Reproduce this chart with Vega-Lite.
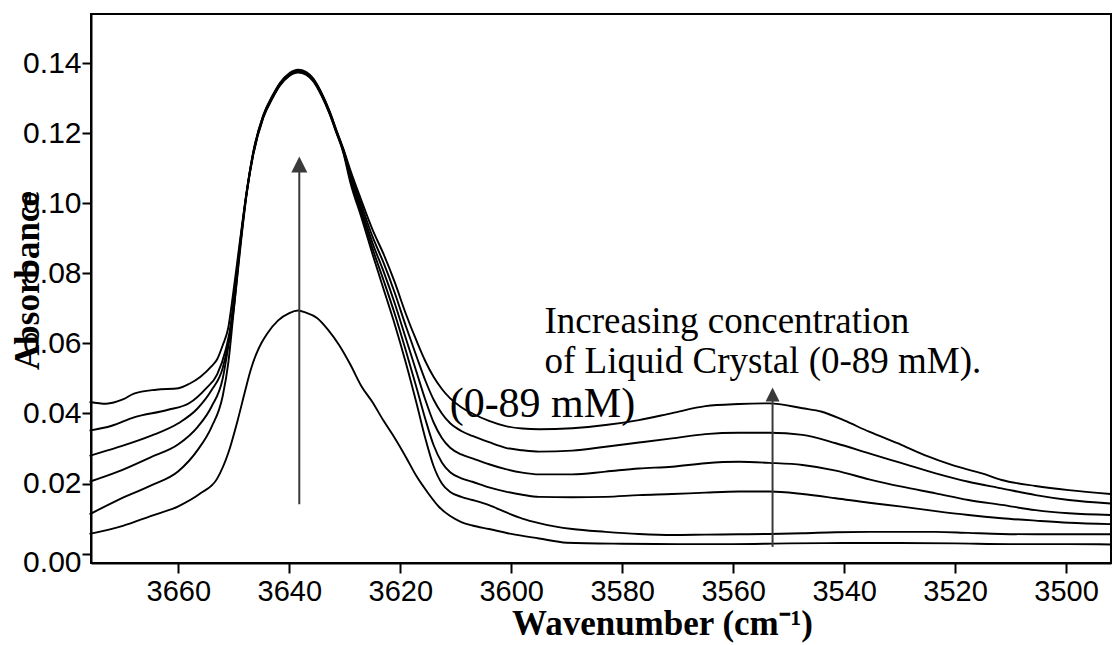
{
  "$schema": "https://vega.github.io/schema/vega-lite/v6.json",
  "width": 1020,
  "height": 549,
  "autosize": {"type": "none"},
  "padding": {"left": 91, "top": 14, "right": 6, "bottom": 82},
  "background": "white",
  "config": {
    "view": {"stroke": "black", "strokeWidth": 2},
    "axis": {"grid": false, "domainColor": "black", "domainWidth": 2, "tickColor": "black", "tickWidth": 2, "labelColor": "black", "titleColor": "black", "labelFont": "Liberation Sans", "titleFont": "Liberation Serif", "titleFontWeight": "bold"}
  },
  "datasets": {
    "curves": [
      {"c":1,"wn":3676,"a":0.0056},{"c":1,"wn":3670,"a":0.0079},{"c":1,"wn":3665,"a":0.0107},{"c":1,"wn":3660,"a":0.0135},{"c":1,"wn":3656,"a":0.0172},{"c":1,"wn":3653,"a":0.0214},{"c":1,"wn":3651,"a":0.0287},{"c":1,"wn":3649.3,"a":0.0381},{"c":1,"wn":3648,"a":0.0462},{"c":1,"wn":3647,"a":0.0522},{"c":1,"wn":3646,"a":0.0568},{"c":1,"wn":3645,"a":0.0602},{"c":1,"wn":3644,"a":0.0628},{"c":1,"wn":3642,"a":0.0666},{"c":1,"wn":3640,"a":0.0687},{"c":1,"wn":3638.4,"a":0.0694},{"c":1,"wn":3637,"a":0.0688},{"c":1,"wn":3635,"a":0.0673},{"c":1,"wn":3633,"a":0.0639},{"c":1,"wn":3631,"a":0.0595},{"c":1,"wn":3629,"a":0.0540},{"c":1,"wn":3627,"a":0.0478},{"c":1,"wn":3625,"a":0.0432},{"c":1,"wn":3623,"a":0.0379},{"c":1,"wn":3621,"a":0.0330},{"c":1,"wn":3619,"a":0.0276},{"c":1,"wn":3617,"a":0.0219},{"c":1,"wn":3615,"a":0.0173},{"c":1,"wn":3613,"a":0.0133},{"c":1,"wn":3611,"a":0.0107},{"c":1,"wn":3609,"a":0.0090},{"c":1,"wn":3607,"a":0.0080},{"c":1,"wn":3604,"a":0.0070},{"c":1,"wn":3600,"a":0.0056},{"c":1,"wn":3595,"a":0.0043},{"c":1,"wn":3590,"a":0.0031},{"c":1,"wn":3580,"a":0.0028},{"c":1,"wn":3570,"a":0.0027},{"c":1,"wn":3560,"a":0.0027},{"c":1,"wn":3550,"a":0.0029},{"c":1,"wn":3540,"a":0.0030},{"c":1,"wn":3530,"a":0.0030},{"c":1,"wn":3520,"a":0.0029},{"c":1,"wn":3510,"a":0.0027},{"c":1,"wn":3500,"a":0.0027},{"c":1,"wn":3492,"a":0.0026},

      {"c":2,"wn":3676,"a":0.0112},{"c":2,"wn":3671,"a":0.0152},{"c":2,"wn":3665,"a":0.0194},{"c":2,"wn":3660,"a":0.0235},{"c":2,"wn":3656.5,"a":0.0296},{"c":2,"wn":3654,"a":0.0362},{"c":2,"wn":3652,"a":0.0450},{"c":2,"wn":3651,"a":0.0544},{"c":2,"wn":3650.1,"a":0.0680},{"c":2,"wn":3648.9,"a":0.0862},{"c":2,"wn":3647.7,"a":0.1025},{"c":2,"wn":3646.5,"a":0.1139},{"c":2,"wn":3644.7,"a":0.1244},{"c":2,"wn":3643,"a":0.1301},{"c":2,"wn":3641.7,"a":0.1336},{"c":2,"wn":3640,"a":0.1364},{"c":2,"wn":3638.4,"a":0.1374},{"c":2,"wn":3637,"a":0.1368},{"c":2,"wn":3635.7,"a":0.1349},{"c":2,"wn":3634.2,"a":0.1308},{"c":2,"wn":3632.7,"a":0.1254},{"c":2,"wn":3631.5,"a":0.1201},{"c":2,"wn":3630.3,"a":0.1147},{"c":2,"wn":3629,"a":0.1060},{"c":2,"wn":3627,"a":0.0960},{"c":2,"wn":3625,"a":0.0855},{"c":2,"wn":3623,"a":0.0755},{"c":2,"wn":3621,"a":0.0655},{"c":2,"wn":3619,"a":0.0545},{"c":2,"wn":3617,"a":0.0425},{"c":2,"wn":3615.5,"a":0.0330},{"c":2,"wn":3614,"a":0.0250},{"c":2,"wn":3612.5,"a":0.0200},{"c":2,"wn":3611,"a":0.0176},{"c":2,"wn":3609,"a":0.0162},{"c":2,"wn":3607,"a":0.0153},{"c":2,"wn":3604,"a":0.0138},{"c":2,"wn":3601,"a":0.0118},{"c":2,"wn":3598,"a":0.0100},{"c":2,"wn":3595,"a":0.0087},{"c":2,"wn":3589,"a":0.0070},{"c":2,"wn":3583,"a":0.0062},{"c":2,"wn":3577,"a":0.0056},{"c":2,"wn":3571,"a":0.0053},{"c":2,"wn":3565,"a":0.0054},{"c":2,"wn":3559,"a":0.0055},{"c":2,"wn":3553.5,"a":0.0056},{"c":2,"wn":3547.5,"a":0.0058},{"c":2,"wn":3541.5,"a":0.0061},{"c":2,"wn":3535.5,"a":0.0062},{"c":2,"wn":3529.6,"a":0.0062},{"c":2,"wn":3523.5,"a":0.0062},{"c":2,"wn":3517.6,"a":0.0059},{"c":2,"wn":3511.6,"a":0.0056},{"c":2,"wn":3505.5,"a":0.0055},{"c":2,"wn":3499.5,"a":0.0055},{"c":2,"wn":3492,"a":0.0055},

      {"c":3,"wn":3676,"a":0.0205},{"c":3,"wn":3671,"a":0.0233},{"c":3,"wn":3665,"a":0.0275},{"c":3,"wn":3660,"a":0.0312},{"c":3,"wn":3656.5,"a":0.0362},{"c":3,"wn":3654,"a":0.0420},{"c":3,"wn":3652,"a":0.0500},{"c":3,"wn":3651,"a":0.0591},{"c":3,"wn":3650.1,"a":0.0688},{"c":3,"wn":3648.9,"a":0.0870},{"c":3,"wn":3647.7,"a":0.1027},{"c":3,"wn":3646.5,"a":0.1141},{"c":3,"wn":3644.7,"a":0.1246},{"c":3,"wn":3643,"a":0.1303},{"c":3,"wn":3641.7,"a":0.1338},{"c":3,"wn":3640,"a":0.1366},{"c":3,"wn":3638.4,"a":0.1376},{"c":3,"wn":3637,"a":0.1370},{"c":3,"wn":3635.7,"a":0.1351},{"c":3,"wn":3634.2,"a":0.1310},{"c":3,"wn":3632.7,"a":0.1256},{"c":3,"wn":3631.5,"a":0.1203},{"c":3,"wn":3630.3,"a":0.1150},{"c":3,"wn":3629,"a":0.1070},{"c":3,"wn":3627,"a":0.0972},{"c":3,"wn":3625,"a":0.0871},{"c":3,"wn":3623,"a":0.0780},{"c":3,"wn":3621,"a":0.0685},{"c":3,"wn":3619,"a":0.0580},{"c":3,"wn":3617,"a":0.0470},{"c":3,"wn":3615.5,"a":0.0385},{"c":3,"wn":3614,"a":0.0310},{"c":3,"wn":3612.5,"a":0.0260},{"c":3,"wn":3611,"a":0.0232},{"c":3,"wn":3609,"a":0.0215},{"c":3,"wn":3607,"a":0.0205},{"c":3,"wn":3604,"a":0.0189},{"c":3,"wn":3601,"a":0.0177},{"c":3,"wn":3598,"a":0.0168},{"c":3,"wn":3595,"a":0.0162},{"c":3,"wn":3589,"a":0.0161},{"c":3,"wn":3583,"a":0.0162},{"c":3,"wn":3577,"a":0.0167},{"c":3,"wn":3571,"a":0.0170},{"c":3,"wn":3565,"a":0.0174},{"c":3,"wn":3559,"a":0.0177},{"c":3,"wn":3553.5,"a":0.0177},{"c":3,"wn":3547.5,"a":0.0170},{"c":3,"wn":3541.5,"a":0.0158},{"c":3,"wn":3535.5,"a":0.0145},{"c":3,"wn":3529.6,"a":0.0134},{"c":3,"wn":3523.5,"a":0.0121},{"c":3,"wn":3517.6,"a":0.0110},{"c":3,"wn":3511.6,"a":0.0101},{"c":3,"wn":3505.5,"a":0.0094},{"c":3,"wn":3499.5,"a":0.0088},{"c":3,"wn":3492,"a":0.0084},

      {"c":4,"wn":3676,"a":0.0279},{"c":4,"wn":3671,"a":0.0303},{"c":4,"wn":3665,"a":0.0336},{"c":4,"wn":3660,"a":0.0372},{"c":4,"wn":3656.5,"a":0.0415},{"c":4,"wn":3654,"a":0.0467},{"c":4,"wn":3652,"a":0.0530},{"c":4,"wn":3651,"a":0.0601},{"c":4,"wn":3650.1,"a":0.0698},{"c":4,"wn":3648.9,"a":0.0877},{"c":4,"wn":3647.7,"a":0.1029},{"c":4,"wn":3646.5,"a":0.1143},{"c":4,"wn":3644.7,"a":0.1248},{"c":4,"wn":3643,"a":0.1305},{"c":4,"wn":3641.7,"a":0.1340},{"c":4,"wn":3640,"a":0.1368},{"c":4,"wn":3638.4,"a":0.1378},{"c":4,"wn":3637,"a":0.1372},{"c":4,"wn":3635.7,"a":0.1353},{"c":4,"wn":3634.2,"a":0.1312},{"c":4,"wn":3632.7,"a":0.1258},{"c":4,"wn":3631.5,"a":0.1205},{"c":4,"wn":3630.3,"a":0.1153},{"c":4,"wn":3629,"a":0.1080},{"c":4,"wn":3627,"a":0.0983},{"c":4,"wn":3625,"a":0.0887},{"c":4,"wn":3623,"a":0.0805},{"c":4,"wn":3621,"a":0.0715},{"c":4,"wn":3619,"a":0.0615},{"c":4,"wn":3617,"a":0.0515},{"c":4,"wn":3615.5,"a":0.0440},{"c":4,"wn":3614,"a":0.0375},{"c":4,"wn":3612.5,"a":0.0330},{"c":4,"wn":3611,"a":0.0302},{"c":4,"wn":3609,"a":0.0283},{"c":4,"wn":3607,"a":0.0272},{"c":4,"wn":3604,"a":0.0255},{"c":4,"wn":3601,"a":0.0241},{"c":4,"wn":3598,"a":0.0231},{"c":4,"wn":3595,"a":0.0226},{"c":4,"wn":3589,"a":0.0226},{"c":4,"wn":3583,"a":0.0234},{"c":4,"wn":3577,"a":0.0243},{"c":4,"wn":3571,"a":0.0248},{"c":4,"wn":3565,"a":0.0258},{"c":4,"wn":3559,"a":0.0262},{"c":4,"wn":3553.5,"a":0.0259},{"c":4,"wn":3547.5,"a":0.0253},{"c":4,"wn":3541.5,"a":0.0237},{"c":4,"wn":3535.5,"a":0.0212},{"c":4,"wn":3529.6,"a":0.0191},{"c":4,"wn":3523.5,"a":0.0172},{"c":4,"wn":3517.6,"a":0.0153},{"c":4,"wn":3511.6,"a":0.0139},{"c":4,"wn":3505.5,"a":0.0124},{"c":4,"wn":3499.5,"a":0.0115},{"c":4,"wn":3492,"a":0.0110},

      {"c":5,"wn":3676,"a":0.0351},{"c":5,"wn":3672,"a":0.0365},{"c":5,"wn":3668,"a":0.0389},{"c":5,"wn":3662,"a":0.0410},{"c":5,"wn":3658,"a":0.0430},{"c":5,"wn":3655,"a":0.0472},{"c":5,"wn":3653,"a":0.0512},{"c":5,"wn":3651.5,"a":0.0580},{"c":5,"wn":3650.5,"a":0.0659},{"c":5,"wn":3650.1,"a":0.0715},{"c":5,"wn":3648.9,"a":0.0884},{"c":5,"wn":3647.7,"a":0.1031},{"c":5,"wn":3646.5,"a":0.1145},{"c":5,"wn":3644.7,"a":0.1250},{"c":5,"wn":3643,"a":0.1307},{"c":5,"wn":3641.7,"a":0.1342},{"c":5,"wn":3640,"a":0.1370},{"c":5,"wn":3638.4,"a":0.1380},{"c":5,"wn":3637,"a":0.1374},{"c":5,"wn":3635.7,"a":0.1355},{"c":5,"wn":3634.2,"a":0.1314},{"c":5,"wn":3632.7,"a":0.1260},{"c":5,"wn":3631.5,"a":0.1207},{"c":5,"wn":3630.3,"a":0.1155},{"c":5,"wn":3629,"a":0.1088},{"c":5,"wn":3627,"a":0.0995},{"c":5,"wn":3625,"a":0.0905},{"c":5,"wn":3623,"a":0.0830},{"c":5,"wn":3621,"a":0.0745},{"c":5,"wn":3619,"a":0.0650},{"c":5,"wn":3617,"a":0.0560},{"c":5,"wn":3615.5,"a":0.0495},{"c":5,"wn":3614,"a":0.0440},{"c":5,"wn":3612.5,"a":0.0400},{"c":5,"wn":3611,"a":0.0372},{"c":5,"wn":3609,"a":0.0350},{"c":5,"wn":3607,"a":0.0336},{"c":5,"wn":3604,"a":0.0318},{"c":5,"wn":3601,"a":0.0302},{"c":5,"wn":3598,"a":0.0295},{"c":5,"wn":3595,"a":0.0291},{"c":5,"wn":3589,"a":0.0294},{"c":5,"wn":3583,"a":0.0305},{"c":5,"wn":3577,"a":0.0317},{"c":5,"wn":3571,"a":0.0329},{"c":5,"wn":3565,"a":0.0341},{"c":5,"wn":3559,"a":0.0345},{"c":5,"wn":3553.5,"a":0.0345},{"c":5,"wn":3547.5,"a":0.0339},{"c":5,"wn":3541.5,"a":0.0315},{"c":5,"wn":3535.5,"a":0.0286},{"c":5,"wn":3529.6,"a":0.0258},{"c":5,"wn":3523.5,"a":0.0229},{"c":5,"wn":3517.6,"a":0.0205},{"c":5,"wn":3511.6,"a":0.0186},{"c":5,"wn":3505.5,"a":0.0167},{"c":5,"wn":3499.5,"a":0.0153},{"c":5,"wn":3492,"a":0.0143},

      {"c":6,"wn":3676,"a":0.0433},{"c":6,"wn":3673,"a":0.0428},{"c":6,"wn":3670,"a":0.0440},{"c":6,"wn":3668,"a":0.0457},{"c":6,"wn":3664,"a":0.0468},{"c":6,"wn":3660,"a":0.0472},{"c":6,"wn":3658,"a":0.0485},{"c":6,"wn":3656,"a":0.0505},{"c":6,"wn":3654,"a":0.0535},{"c":6,"wn":3653,"a":0.0555},{"c":6,"wn":3652,"a":0.0595},{"c":6,"wn":3651,"a":0.0645},{"c":6,"wn":3650.1,"a":0.0745},{"c":6,"wn":3648.9,"a":0.0892},{"c":6,"wn":3647.7,"a":0.1033},{"c":6,"wn":3646.5,"a":0.1147},{"c":6,"wn":3644.7,"a":0.1252},{"c":6,"wn":3643,"a":0.1309},{"c":6,"wn":3641.7,"a":0.1344},{"c":6,"wn":3640,"a":0.1372},{"c":6,"wn":3638.4,"a":0.1382},{"c":6,"wn":3637,"a":0.1376},{"c":6,"wn":3635.7,"a":0.1357},{"c":6,"wn":3634.2,"a":0.1316},{"c":6,"wn":3632.7,"a":0.1262},{"c":6,"wn":3631.5,"a":0.1209},{"c":6,"wn":3630.3,"a":0.1158},{"c":6,"wn":3629,"a":0.1095},{"c":6,"wn":3627,"a":0.1008},{"c":6,"wn":3625,"a":0.0925},{"c":6,"wn":3623,"a":0.0855},{"c":6,"wn":3621,"a":0.0775},{"c":6,"wn":3619,"a":0.0685},{"c":6,"wn":3617,"a":0.0605},{"c":6,"wn":3615.5,"a":0.0550},{"c":6,"wn":3614,"a":0.0505},{"c":6,"wn":3612.5,"a":0.0470},{"c":6,"wn":3611,"a":0.0443},{"c":6,"wn":3609,"a":0.0418},{"c":6,"wn":3607,"a":0.0400},{"c":6,"wn":3604,"a":0.0379},{"c":6,"wn":3601,"a":0.0364},{"c":6,"wn":3598,"a":0.0357},{"c":6,"wn":3595,"a":0.0355},{"c":6,"wn":3589,"a":0.0358},{"c":6,"wn":3583,"a":0.0367},{"c":6,"wn":3577,"a":0.0381},{"c":6,"wn":3571,"a":0.0401},{"c":6,"wn":3565,"a":0.0421},{"c":6,"wn":3559,"a":0.0427},{"c":6,"wn":3553.5,"a":0.0429},{"c":6,"wn":3547.5,"a":0.0415},{"c":6,"wn":3544,"a":0.0405},{"c":6,"wn":3540,"a":0.0380},{"c":6,"wn":3535.5,"a":0.0348},{"c":6,"wn":3529.6,"a":0.0310},{"c":6,"wn":3525,"a":0.0278},{"c":6,"wn":3520.6,"a":0.0253},{"c":6,"wn":3515,"a":0.0228},{"c":6,"wn":3511.6,"a":0.0210},{"c":6,"wn":3505.5,"a":0.0193},{"c":6,"wn":3499.5,"a":0.0181},{"c":6,"wn":3492,"a":0.0170}
    ],
    "arrows": [
      {"wn": 3638.2, "a0": 0.0141, "a1": 0.1095, "head": 0.1111, "hs": 256},
      {"wn": 3552.9, "a0": 0.0019, "a1": 0.0440, "head": 0.0454, "hs": 196}
    ],
    "notes": [
      {"wn": 3594.0, "a": 0.0630, "t": "Increasing concentration", "s": 37},
      {"wn": 3594.0, "a": 0.0516, "t": "of Liquid Crystal (0-89 mM).", "s": 37},
      {"wn": 3611.1, "a": 0.0390, "t": "(0-89 mM)", "s": 42}
    ]
  },
  "layer": [
    {
      "data": {"name": "curves"},
      "mark": {"type": "line", "color": "black", "strokeWidth": 1.9, "interpolate": "monotone"},
      "encoding": {
        "x": {"field": "wn", "type": "quantitative",
          "scale": {"domain": [3491.9, 3675.74], "reverse": true, "nice": false, "zero": false},
          "axis": {"values": [3500, 3520, 3540, 3560, 3580, 3600, 3620, 3640, 3660], "format": "d", "labelFontSize": 29, "tickSize": 10, "labelPadding": 4,
            "title": "Wavenumber (cm⁻¹)", "titleFontSize": 35, "titleX": 571, "titleY": 71, "titleBaseline": "alphabetic", "titleAlign": "center"}},
        "y": {"field": "a", "type": "quantitative",
          "scale": {"domain": [-0.0027, 0.1541], "nice": false, "zero": false},
          "axis": {"values": [0, 0.02, 0.04, 0.06, 0.08, 0.1, 0.12, 0.14], "format": ".2f", "labelFontSize": 30, "tickSize": 9, "labelPadding": 1,
            "labelOffset": {"condition": {"test": "datum.value == 0", "value": 9}, "value": 0},
            "title": "Absorbance", "titleFontSize": 35, "titleX": -53, "titleY": 266, "titleBaseline": "alphabetic", "titleAlign": "center"}},
        "detail": {"field": "c", "type": "nominal"}
      }
    },
    {
      "data": {"name": "arrows"},
      "mark": {"type": "rule", "color": "#3a3a3a", "strokeWidth": 2},
      "encoding": {
        "x": {"field": "wn", "type": "quantitative"},
        "y": {"field": "a0", "type": "quantitative"},
        "y2": {"field": "a1"}
      }
    },
    {
      "data": {"name": "arrows"},
      "mark": {"type": "point", "shape": "M0,-1L-1,1L1,1Z", "filled": true, "color": "#3a3a3a", "opacity": 1, "strokeWidth": 0},
      "encoding": {
        "x": {"field": "wn", "type": "quantitative"},
        "y": {"field": "head", "type": "quantitative"},
        "size": {"field": "hs", "type": "quantitative", "scale": null}
      }
    },
    {
      "data": {"name": "notes"},
      "mark": {"type": "text", "font": "Liberation Serif", "align": "left", "baseline": "alphabetic", "color": "black"},
      "encoding": {
        "x": {"field": "wn", "type": "quantitative"},
        "y": {"field": "a", "type": "quantitative"},
        "text": {"field": "t"},
        "size": {"field": "s", "type": "quantitative", "scale": null}
      }
    }
  ]
}
